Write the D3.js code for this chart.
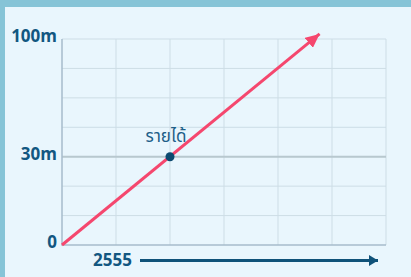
<!DOCTYPE html>
<html>
<head>
<meta charset="utf-8">
<script src="https://cdn.jsdelivr.net/npm/d3@7"></script>
<style>
  html, body { margin: 0; padding: 0; background: #86c4d7; }
  #chart { width: 411px; height: 277px; }
  .grid line { stroke: #cddde6; stroke-width: 1; }
  .tick-label { font-family: 'Open Sans', sans-serif; font-weight: bold; font-size: 17px; fill: #125781; }
  .point-label { font-family: 'Noto Sans Thai', 'Noto Sans', sans-serif; font-size: 17px; fill: #1d5f88; }
</style>
</head>
<body>
<div id="chart"></div>
<script>
// ค่าต่าง ๆ อ่านจากภาพ
const yTicks = [0, 30, 100]
const yTickLabels = ['0', '30m', '100m']
const xLabel = '2555'
const lineX = [0, 4.77]
const lineY = [0, 103]
const pointX = [2]
const pointY = [30]
const pointLabels = ['รายได้']

const W = 411
const H = 277
const margin = { left: 62, right: 25, top: 39, bottom: 32 }
const innerW = W - margin.left - margin.right
const innerH = H - margin.top - margin.bottom
const cols = 6
const rows = 7

const svg = d3.select('#chart')
  .append('svg')
  .attr('width', W)
  .attr('height', H)

// กรอบ + พื้นหลัง
svg.append('rect').attr('width', W).attr('height', H).attr('fill', '#86c4d7')
svg.append('rect').attr('x', 5).attr('y', 7).attr('width', W - 5).attr('height', H - 7).attr('fill', '#e9f6fd')

const x = d3.scaleLinear().domain([0, cols]).range([margin.left, margin.left + innerW])
// แกน y ไม่เป็นเส้นตรง: 0-30 กิน 3 ช่อง, 30-100 กิน 4 ช่อง
const y = d3.scaleLinear()
  .domain(yTicks)
  .range([margin.top + innerH, margin.top + innerH * 4 / rows, margin.top])

const defs = svg.append('defs')
defs.append('marker')
  .attr('id', 'head-red')
  .attr('viewBox', '0 0 14 13')
  .attr('refX', 14)
  .attr('refY', 6.5)
  .attr('markerWidth', 14)
  .attr('markerHeight', 13)
  .attr('markerUnits', 'userSpaceOnUse')
  .attr('orient', 'auto')
  .append('path')
  .attr('d', 'M0,0 L14,6.5 L0,13 Z')
  .attr('fill', '#f5476e')
defs.append('marker')
  .attr('id', 'head-blue')
  .attr('viewBox', '0 0 9 11')
  .attr('refX', 9)
  .attr('refY', 5.5)
  .attr('markerWidth', 9)
  .attr('markerHeight', 11)
  .attr('markerUnits', 'userSpaceOnUse')
  .attr('orient', 'auto')
  .append('path')
  .attr('d', 'M0,0 L9,5.5 L0,11 Z')
  .attr('fill', '#0f5279')

// เส้นตาราง
const grid = svg.append('g').attr('class', 'grid')
grid.selectAll('.v')
  .data(d3.range(1, cols + 1))
  .enter()
  .append('line')
  .attr('x1', d => x(d)).attr('x2', d => x(d))
  .attr('y1', margin.top).attr('y2', margin.top + innerH)
grid.selectAll('.h')
  .data(d3.range(0, rows))
  .enter()
  .append('line')
  .attr('x1', margin.left).attr('x2', margin.left + innerW)
  .attr('y1', d => margin.top + innerH * d / rows)
  .attr('y2', d => margin.top + innerH * d / rows)

// เส้น 30m เข้มกว่า
svg.append('line')
  .attr('x1', margin.left).attr('x2', margin.left + innerW)
  .attr('y1', y(yTicks[1])).attr('y2', y(yTicks[1]))
  .attr('stroke', '#b8c8cf').attr('stroke-width', 2)

// แกนซ้าย/ล่าง
svg.append('path')
  .attr('d', `M${x(0)},${margin.top}V${y(0)}H${margin.left + innerW}`)
  .attr('fill', 'none')
  .attr('stroke', '#a7bccb')
  .attr('stroke-width', 1.5)

// ป้ายแกน y
svg.append('g').selectAll('text')
  .data(yTicks)
  .enter()
  .append('text')
  .attr('class', 'tick-label')
  .attr('text-anchor', 'end')
  .attr('x', x(0) - 5)
  .attr('y', d => y(d) + 3)
  .text((d, i) => yTickLabels[i])

// แกน x: ปี + ลูกศร
svg.append('text')
  .attr('class', 'tick-label')
  .attr('x', x(0) + 31)
  .attr('y', y(0) + 21)
  .text(xLabel)
svg.append('line')
  .attr('x1', x(0) + 78).attr('x2', x(cols) - 8)
  .attr('y1', y(0) + 15.5).attr('y2', y(0) + 15.5)
  .attr('stroke', '#0f5279')
  .attr('stroke-width', 3)
  .attr('marker-end', 'url(#head-blue)')

// เส้นแนวโน้ม
svg.append('line')
  .attr('x1', x(lineX[0])).attr('y1', y(lineY[0]))
  .attr('x2', x(lineX[1])).attr('y2', y(lineY[1]))
  .attr('stroke', '#f5476e')
  .attr('stroke-width', 3)
  .attr('marker-end', 'url(#head-red)')

// จุด + ป้าย
const pts = svg.append('g').selectAll('g')
  .data(pointX)
  .enter()
  .append('g')
pts.append('circle')
  .attr('cx', d => x(d))
  .attr('cy', (d, i) => y(pointY[i]))
  .attr('r', 4.5)
  .attr('fill', '#0c4a70')
pts.append('text')
  .attr('class', 'point-label')
  .attr('text-anchor', 'middle')
  .attr('x', d => x(d) - 4)
  .attr('y', (d, i) => y(pointY[i]) - 15)
  .text((d, i) => pointLabels[i])
</script>
</body>
</html>
